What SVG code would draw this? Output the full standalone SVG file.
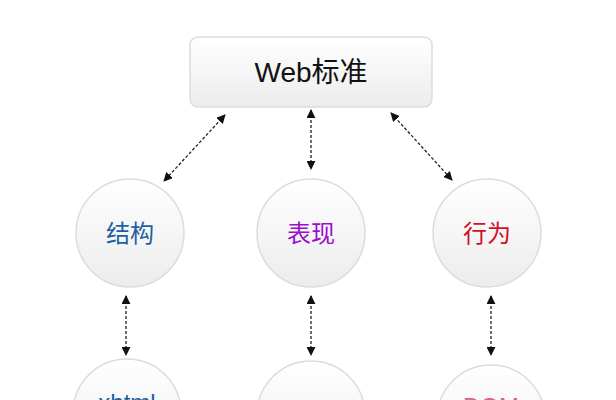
<svg xmlns="http://www.w3.org/2000/svg" width="616" height="400" viewBox="0 0 616 400">
<style>
.t{font-family:"Liberation Sans","Noto Sans CJK SC",sans-serif;text-anchor:middle}
.c{stroke:#dcdcdc;stroke-width:1.5;fill:url(#g)}
.l{stroke:#222;stroke-width:1.3;stroke-dasharray:3,2;fill:none;marker-start:url(#a);marker-end:url(#a)}
</style>
<defs>
<linearGradient id="g" x1="0" y1="0" x2="0" y2="1"><stop offset="0" stop-color="#ffffff"/><stop offset="1" stop-color="#ececec"/></linearGradient>
<marker id="a" viewBox="0 0 10 10" refX="9" refY="5" markerWidth="9" markerHeight="9" orient="auto-start-reverse" markerUnits="userSpaceOnUse"><path d="M0,0L10,5L0,10z" fill="#111"/></marker>
</defs>
<rect width="616" height="400" fill="#fff"/>
<g id="web"><rect x="190" y="37" width="242" height="70" rx="8" class="c"/><text x="311" y="82" class="t" font-size="28" fill="#111">Web标准</text></g>
<g id="jiegou"><circle cx="130" cy="233" r="54" class="c"/><text x="130" y="242" class="t" font-size="24" fill="#1f5f9f">结构</text></g>
<g id="biaoxian"><circle cx="311" cy="233" r="54" class="c"/><text x="311" y="242" class="t" font-size="24" fill="#9b10c8">表现</text></g>
<g id="xingwei"><circle cx="487" cy="233" r="54" class="c"/><text x="487" y="242" class="t" font-size="24" fill="#d0102a">行为</text></g>
<g id="xhtml"><circle cx="127" cy="413" r="54" class="c"/><text x="127" y="411" class="t" font-size="24" fill="#1f5f9f">xhtml</text></g>
<g id="css"><circle cx="311" cy="415" r="54" class="c"/></g>
<g id="dom"><circle cx="491" cy="419" r="54" class="c"/><text x="491" y="415" class="t" font-size="24" fill="#e06080">DOM</text></g>
<g id="connectors">
<line x1="225" y1="115" x2="164" y2="181" class="l"/>
<line x1="311" y1="110" x2="311" y2="169" class="l"/>
<line x1="391" y1="113" x2="452" y2="180" class="l"/>
<line x1="126" y1="296" x2="126" y2="355" class="l"/>
<line x1="311" y1="296" x2="311" y2="355" class="l"/>
<line x1="491" y1="296" x2="491" y2="355" class="l"/>
</g>
</svg>
